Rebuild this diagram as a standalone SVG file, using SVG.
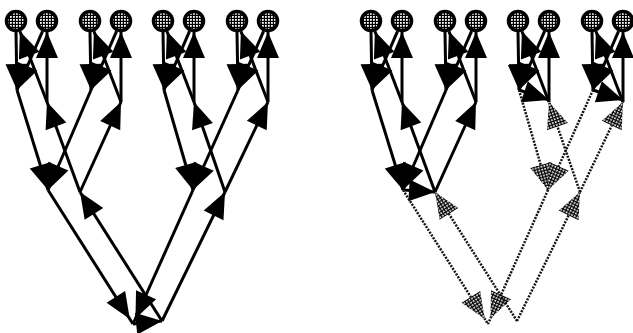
<svg xmlns="http://www.w3.org/2000/svg" width="633" height="333" viewBox="0 0 633 333">
<defs>
<pattern id="chk2" width="3" height="3" patternUnits="userSpaceOnUse"><rect width="3" height="3" fill="#000"/><rect x="1" y="1" width="1.7" height="1.7" fill="#fff"/></pattern>
<pattern id="mesh" width="3" height="3" patternUnits="userSpaceOnUse"><rect width="3" height="3" fill="#000"/><rect x="1" y="1" width="1.8" height="1.8" fill="#fff"/></pattern>
<marker id="ab" markerUnits="userSpaceOnUse" markerWidth="26" markerHeight="22" viewBox="0 0 26 22" refX="26" refY="11" orient="auto" overflow="visible"><path d="M0,0L26,11L0,22z" fill="#000"/></marker>
<marker id="ab2" markerUnits="userSpaceOnUse" markerWidth="26" markerHeight="22" viewBox="0 0 26 22" refX="32" refY="11" orient="auto" overflow="visible"><path d="M0,0L26,11L0,22z" fill="#000"/></marker>
<marker id="ag" markerUnits="userSpaceOnUse" markerWidth="26" markerHeight="22" viewBox="0 0 26 22" refX="26" refY="11" orient="auto" overflow="visible"><path d="M0,0L26,11L0,22z" fill="url(#chk2)"/></marker>
<marker id="ag2" markerUnits="userSpaceOnUse" markerWidth="26" markerHeight="22" viewBox="0 0 26 22" refX="32" refY="11" orient="auto" overflow="visible"><path d="M0,0L26,11L0,22z" fill="url(#chk2)"/></marker>
</defs>
<style>
.b{stroke:#000;stroke-width:3;fill:none;marker-end:url(#ab)}
.b2{stroke:#000;stroke-width:3;fill:none;marker-end:url(#ab2)}
.g{stroke:#111;stroke-width:2.5;stroke-dasharray:2 1.3;fill:none;marker-end:url(#ag)}
.g2{stroke:#111;stroke-width:2.5;stroke-dasharray:2 1.3;fill:none;marker-end:url(#ag2)}
.n circle{fill:url(#mesh);stroke:#000;stroke-width:3.5}
</style>
<rect width="633" height="333" fill="#fff"/>
<g id="connectors">
<path class="b" d="M16,32L17,90"/><path class="b" d="M42.6,31.1L17,90"/><path class="b" d="M47,102L19.9,31.3"/><path class="b" d="M47,102L47,32"/>
<path class="b" d="M90,32L91,90"/><path class="b" d="M116.6,31.1L91,90"/><path class="b" d="M121,102L93.9,31.3"/><path class="b" d="M121,102L121,32"/>
<path class="b" d="M163,32L164,90"/><path class="b" d="M189.6,31.1L164,90"/><path class="b" d="M194,102L166.9,31.3"/><path class="b" d="M194,102L194,32"/>
<path class="b" d="M237,32L238,90"/><path class="b" d="M263.6,31.1L238,90"/><path class="b" d="M268,102L240.9,31.3"/><path class="b" d="M268,102L268,32"/>
<path class="b" d="M17,90L48,190"/><path class="b" d="M91,90L48,190"/><path class="b" d="M80,192L47,102"/><path class="b" d="M80,192L121,102"/>
<path class="b" d="M164,90L193,190"/><path class="b" d="M238,90L193,190"/><path class="b" d="M225,192L194,102"/><path class="b" d="M225,192L268,102"/>
<path class="b2" d="M48,190L133,324"/><path class="b2" d="M193,190L133,324"/><path class="b" d="M162,321L80,192"/><path class="b" d="M162,321L225,192"/>
<path class="b" d="M133,324L162,321"/>
<path class="b" d="M371,32L372,90"/><path class="b" d="M397.6,31.1L372,90"/><path class="b" d="M402,102L374.9,31.3"/><path class="b" d="M402,102L402,32"/>
<path class="b" d="M445,32L446,90"/><path class="b" d="M471.6,31.1L446,90"/><path class="b" d="M476,102L448.9,31.3"/><path class="b" d="M476,102L476,32"/>
<path class="b" d="M518,32L519,90"/><path class="b" d="M544.6,31.1L519,90"/><path class="b" d="M549,102L521.9,31.3"/><path class="b" d="M549,102L549,32"/>
<path class="b" d="M592,32L593,90"/><path class="b" d="M618.6,31.1L593,90"/><path class="b" d="M623,102L595.9,31.3"/><path class="b" d="M623,102L623,32"/>
<path class="b" d="M519,90L549,100"/><path class="b" d="M593,90L623,100"/>
<path class="b" d="M372,90L403,190"/><path class="b" d="M446,90L403,190"/><path class="b" d="M435,192L402,102"/><path class="b" d="M435,192L476,102"/>
<path class="b" d="M403,190L435,192"/>
<path class="g" d="M519,90L548,190"/><path class="g" d="M593,90L548,190"/><path class="g" d="M580,192L549,102"/><path class="g" d="M580,192L623,102"/>
<path class="g2" d="M403,190L488,324"/><path class="g2" d="M548,190L488,324"/><path class="g" d="M517,321L435,192"/><path class="g" d="M517,321L580,192"/>
</g>
<g id="node-l1" class="n"><circle cx="16" cy="21" r="9.5"/></g>
<g id="node-l2" class="n"><circle cx="47" cy="21" r="9.5"/></g>
<g id="node-l3" class="n"><circle cx="90" cy="21" r="9.5"/></g>
<g id="node-l4" class="n"><circle cx="121" cy="21" r="9.5"/></g>
<g id="node-l5" class="n"><circle cx="163" cy="21" r="9.5"/></g>
<g id="node-l6" class="n"><circle cx="194" cy="21" r="9.5"/></g>
<g id="node-l7" class="n"><circle cx="237" cy="21" r="9.5"/></g>
<g id="node-l8" class="n"><circle cx="268" cy="21" r="9.5"/></g>
<g id="node-r1" class="n"><circle cx="371" cy="21" r="9.5"/></g>
<g id="node-r2" class="n"><circle cx="402" cy="21" r="9.5"/></g>
<g id="node-r3" class="n"><circle cx="445" cy="21" r="9.5"/></g>
<g id="node-r4" class="n"><circle cx="476" cy="21" r="9.5"/></g>
<g id="node-r5" class="n"><circle cx="518" cy="21" r="9.5"/></g>
<g id="node-r6" class="n"><circle cx="549" cy="21" r="9.5"/></g>
<g id="node-r7" class="n"><circle cx="592" cy="21" r="9.5"/></g>
<g id="node-r8" class="n"><circle cx="623" cy="21" r="9.5"/></g>
</svg>
